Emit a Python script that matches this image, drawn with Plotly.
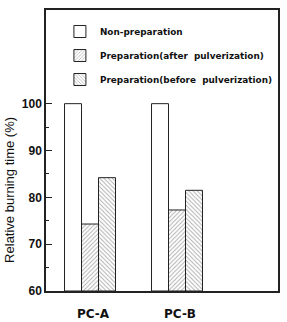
import plotly.graph_objects as go

categories = ["PC-A", "PC-B"]
non_prep = [100, 100]
prep_after = [74.3, 77.3]
prep_before = [84.2, 81.5]
series_names = ["Non-preparation", "Preparation(after  pulverization)", "Preparation(before  pulverization)"]
y_ticks = [60, 70, 80, 90, 100]
y_title = "Relative burning time (%)"

fig = go.Figure()
styles = [
    dict(color="white", pattern=dict(shape="")),
    dict(color="white", pattern=dict(shape="/", fgcolor="#555", size=3, solidity=0.3)),
    dict(color="white", pattern=dict(shape="\\", fgcolor="#555", size=3, solidity=0.3)),
]
for i, (name, vals) in enumerate(zip(series_names, [non_prep, prep_after, prep_before])):
    fig.add_trace(go.Bar(
        x=categories, y=[v - 60 for v in vals], base=60, name=name,
        marker=dict(color=styles[i]["color"], pattern=styles[i]["pattern"],
                    line=dict(color="#222", width=1)),
        legendgroup=f"g{i}",
    ))

fig.update_layout(
    width=287, height=322,
    margin=dict(l=46, r=9, t=10, b=31, autoexpand=False),
    plot_bgcolor="white", paper_bgcolor="white",
    barmode="group", bargap=0.414, bargroupgap=0,
    showlegend=True,
    legend=dict(x=0.06, y=0.975, xanchor="left", yanchor="top",
                bgcolor="rgba(0,0,0,0)", traceorder="grouped", tracegroupgap=5,
                font=dict(family="DejaVu Sans", size=8.9, color="#111", weight="bold"),
                itemwidth=30),
    font=dict(family="Liberation Sans, Arial", color="#111"),
    annotations=[dict(text=y_title, xref="paper", yref="paper", x=-0.155, y=0.36,
                      xanchor="center", yanchor="middle", textangle=-90, showarrow=False,
                      font=dict(size=13, family="Liberation Sans, Arial", color="#111"))],
)
fig.update_xaxes(
    range=[-0.506, 2.161], showline=True, linecolor="#222", linewidth=1.5, mirror=True,
    ticks="", tickfont=dict(size=12, family="DejaVu Sans", weight="bold"),
    ticklabelstandoff=11, ticklabelshift=3, automargin=False,
)
fig.update_yaxes(
    range=[60, 120], showline=True, linecolor="#222", linewidth=1.5, mirror=True,
    tickvals=y_ticks, ticktext=[str(t) for t in y_ticks],
    ticks="inside", ticklen=6, tickcolor="#222",
    minor=dict(tickvals=[65, 75, 85, 95], ticks="inside", ticklen=3, tickcolor="#222"),
    tickfont=dict(size=12, family="Liberation Sans, Arial", weight="bold"),
    showgrid=False, zeroline=False, automargin=False,
)
fig.write_html("out.html")
